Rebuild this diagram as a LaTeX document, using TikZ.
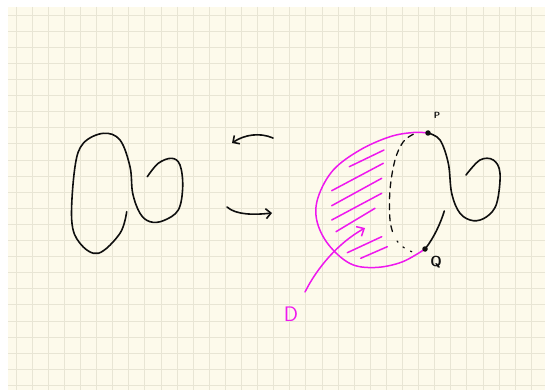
\documentclass[tikz,border=0pt]{standalone}
\usepackage{tikz}
\usetikzlibrary{arrows.meta}
\definecolor{paper}{RGB}{253,250,235}
\definecolor{gridline}{RGB}{232,229,212}
\definecolor{pen}{RGB}{15,15,15}
\definecolor{hilite}{RGB}{238,24,238}

\begin{document}
\begin{tikzpicture}[x=1pt, y=-1pt,
  ink/.style={draw=pen, line width=1.6pt, line cap=round, line join=round},
  pinkink/.style={draw=hilite, line width=1.5pt, line cap=round, line join=round},
  flip/.style={ink, -{Straight Barb[length=5pt, width=10pt]}},
  pointer/.style={pinkink, -{Straight Barb[length=6pt, width=11pt]}},
  dotmark/.style={circle, fill=pen, inner sep=0pt, minimum size=5.5pt},
  tag/.style={font=\sffamily\bfseries, text=pen, inner sep=1pt}
]
\useasboundingbox (0,0) rectangle (545,390);
\fill[white] (0,0) rectangle (545,390);
\fill[paper] (8,7) rectangle (545,390);
\foreach \k in {0,...,32}
  \draw[gridline, line width=0.7pt] ({16+16.1*\k},7) -- ({16+16.1*\k},390);
\foreach \k in {0,...,23}
  \draw[gridline, line width=0.7pt] (8,{15+16.1*\k}) -- (545,{15+16.1*\k});

\draw[ink] plot[smooth, tension=0.6] coordinates {
  (126.7,211.7) (120,233.3) (98.3,253.3) (80,243.3) (71.7,220) (75,166.7)
  (83.3,143.3) (103.3,133.3) (120,140) (130,166.7) (132.7,193.3)
  (140,213.3) (150,221.7) (163.3,220.7) (178.3,210) (182.7,186.7)
  (180,165) (171.7,158.3) (158.3,163.3) (147.3,176.7)};

\coordinate (upR) at (273,138);
\coordinate (upL) at (232,143);
\coordinate (lowL) at (227,207);
\coordinate (lowR) at (272,213);
\draw[flip] (upR) .. controls (259,132) and (244,135) .. (upL);
\draw[flip] (lowL) .. controls (236,215) and (254,215) .. (lowR);

\coordinate (p) at (428,133);
\coordinate (q) at (425,249);

\draw[pinkink] plot[smooth, tension=0.6] coordinates {
  (p) (413.3,132.5) (390,136.7) (360,150) (333.3,170) (318.3,196.7)
  (316.7,220) (328,244) (350,263.5) (375,267.5) (402,262) (q)};

\foreach \xa/\ya/\xb/\yb in {
  349.3/166.7/384/150, 331.7/190.7/383.3/163.3, 331.7/205.7/381.7/178.3,
  331.7/220/381.7/193.3, 336/231.7/375/208.3, 347.3/252.7/381.7/236.7,
  360.7/258.3/387.3/246.7}
  \draw[pinkink] (\xa,\ya) -- (\xb,\yb);

\draw[ink, line width=1.3pt, dash pattern=on 6pt off 5pt] plot[smooth, tension=0.6] coordinates {
  (413.3,134.3) (403.3,141.7) (395,160) (390,190) (390,220) (394,236)};
\draw[ink, line width=1.3pt, dash pattern=on 1.5pt off 7pt] plot[smooth, tension=0.6] coordinates {
  (397,241) (403,247) (411.7,251.7)};

\draw[ink] plot[smooth, tension=0.6] coordinates {
  (p) (440,140) (448.3,163.3) (451.7,193.3) (460,213.3) (473.3,220.7)
  (486.7,216.7) (496.7,203.3) (500,173.3) (493.3,160) (480,160) (466,175)};
\draw[ink] (q) .. controls (434,238) and (441,222) .. (444.3,211);

\node[dotmark] (pdot) at (p) {};
\node[dotmark] (qdot) at (q) {};
\node[tag, font=\sffamily\bfseries\small] (plabel) at (437,115) {P};
\node[tag, font=\sffamily\bfseries\Large] (qlabel) at (436,262) {Q};

\node[text=hilite, font=\sffamily\fontsize{21}{21}\selectfont] (dlabel) at (291,314) {D};
\coordinate (dtail) at (305,292);
\coordinate (dtip) at (365,228);
\draw[pointer] (dtail) .. controls (317,268) and (338,243) .. (dtip);

\end{tikzpicture}
\end{document}
